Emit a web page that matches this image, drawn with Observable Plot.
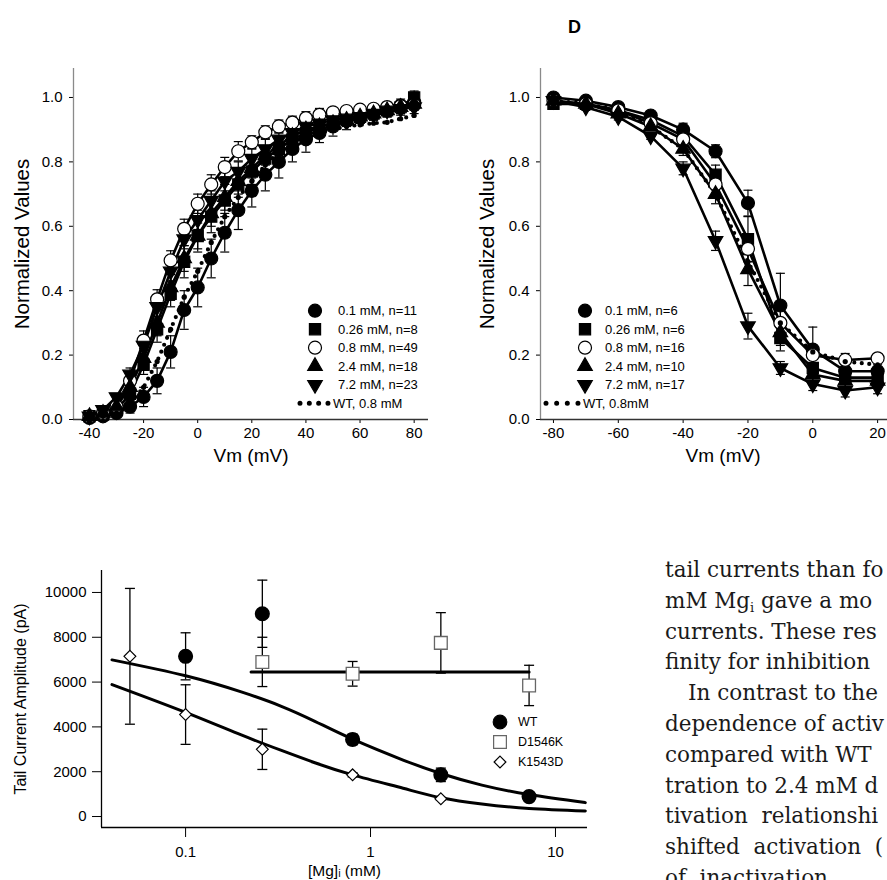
<!DOCTYPE html>
<html><head><meta charset="utf-8">
<script src="https://cdn.jsdelivr.net/npm/d3@7"></script>
<script src="https://cdn.jsdelivr.net/npm/@observablehq/plot@0.6"></script>
<style>
html,body{margin:0;padding:0;background:#fff;overflow:hidden;}
#root{position:relative;width:887px;height:880px;overflow:hidden;background:#fff;font-family:"Liberation Sans",Arial,sans-serif;}
#root > *{position:absolute;}
.para{font-family:"DejaVu Serif",serif;font-size:21.5px;line-height:30.8px;color:#1a1a1a;white-space:nowrap;}
.para div{white-space:nowrap;}
.para sub{font-size:13px;vertical-align:-4px;line-height:0;}
</style></head>
<body><div id="root"></div>
<script>
// ================= DATA =================
const panelLabel = "D";

// --- activation (top-left) ---
const actV = [-40,-35,-30,-25,-20,-15,-10,-5,0,5,10,15,20,25,30,35,40,45,50,55,60,65,70,75,80];
const actNames = ["0.1 mM, n=11","0.26 mM, n=8","0.8 mM, n=49","2.4 mM, n=18","7.2 mM, n=23","WT, 0.8 mM"];
const act01  = [0.005,0.01,0.02,0.04,0.07,0.12,0.21,0.34,0.41,0.50,0.58,0.65,0.71,0.76,0.80,0.84,0.87,0.89,0.91,0.93,0.94,0.955,0.965,0.975,0.985];
const act026 = [0.01,0.015,0.03,0.08,0.17,0.28,0.39,0.49,0.57,0.63,0.68,0.73,0.77,0.81,0.84,0.87,0.89,0.91,0.92,0.93,0.94,0.95,0.96,0.97,1.0];
const act08  = [0.01,0.02,0.04,0.12,0.245,0.373,0.494,0.592,0.670,0.730,0.784,0.833,0.861,0.892,0.910,0.922,0.936,0.946,0.954,0.958,0.962,0.965,0.97,0.973,0.977];
const act24  = [0.01,0.02,0.04,0.10,0.19,0.30,0.41,0.50,0.57,0.64,0.69,0.74,0.78,0.82,0.85,0.88,0.90,0.91,0.92,0.93,0.94,0.95,0.96,0.97,0.98];
const act72  = [0.01,0.03,0.07,0.14,0.23,0.35,0.46,0.56,0.62,0.68,0.74,0.77,0.81,0.84,0.87,0.89,0.91,0.92,0.93,0.935,0.94,0.95,0.96,0.965,0.97];
const actWT  = [0.005,0.01,0.02,0.05,0.10,0.18,0.28,0.38,0.46,0.55,0.63,0.69,0.74,0.79,0.83,0.86,0.88,0.89,0.90,0.91,0.915,0.92,0.923,0.934,0.944];
const actErr01  = [0.005,0.01,0.01,0.02,0.03,0.04,0.05,0.06,0.06,0.06,0.06,0.06,0.05,0.05,0.05,0.04,0.04,0.03,0.03,0.03,0.02,0.02,0.02,0.02,0.02];
const actErr026 = [0.005,0.01,0.01,0.02,0.03,0.04,0.04,0.05,0.05,0.05,0.05,0.04,0.04,0.04,0.04,0.03,0.03,0.03,0.02,0.02,0.02,0.02,0.02,0.02,0.02];
const actErr08  = [0.005,0.01,0.01,0.02,0.03,0.03,0.03,0.03,0.03,0.03,0.03,0.03,0.02,0.02,0.02,0.02,0.02,0.02,0.01,0.01,0.01,0.01,0.01,0.01,0.01];
const actErr24  = [0.005,0.01,0.01,0.02,0.03,0.04,0.04,0.04,0.04,0.04,0.04,0.04,0.03,0.03,0.03,0.03,0.02,0.02,0.02,0.02,0.02,0.02,0.02,0.02,0.02];
const actErr72  = [0.005,0.01,0.01,0.02,0.03,0.03,0.03,0.03,0.03,0.03,0.03,0.03,0.03,0.03,0.02,0.02,0.02,0.02,0.02,0.02,0.02,0.02,0.02,0.02,0.02];
const actXDomain = [-45.9, 85.3];
const actXTicks = [-40,-20,0,20,40,60,80];

// --- inactivation (top-right) ---
const inV = [-80,-70,-60,-50,-40,-30,-20,-10,0,10,20];
const inNames = ["0.1 mM, n=6","0.26 mM, n=6","0.8 mM, n=16","2.4 mM, n=10","7.2 mM, n=17","WT, 0.8mM"];
const in01  = [1.00,0.99,0.97,0.944,0.90,0.833,0.672,0.354,0.217,0.15,0.15];
const in026 = [0.98,0.98,0.96,0.93,0.88,0.76,0.56,0.253,0.16,0.13,0.13];
const in08  = [0.99,0.98,0.96,0.92,0.87,0.73,0.53,0.30,0.20,0.185,0.19];
const in24  = [0.99,0.98,0.95,0.91,0.84,0.70,0.466,0.27,0.14,0.12,0.12];
const in72  = [0.99,0.97,0.94,0.88,0.78,0.555,0.29,0.16,0.11,0.09,0.10];
const inWT  = [0.99,0.98,0.96,0.91,0.84,0.70,0.49,0.30,0.21,0.18,0.17];
const inErr01  = [0.01,0.01,0.01,0.01,0.02,0.02,0.04,0.10,0.07,0.02,0.02];
const inErr026 = [0.01,0.01,0.01,0.01,0.02,0.03,0.07,0.04,0.03,0.02,0.02];
const inErr08  = [0.01,0.01,0.01,0.01,0.02,0.03,0.04,0.04,0.03,0.02,0.01];
const inErr24  = [0.01,0.01,0.01,0.01,0.02,0.03,0.05,0.04,0.03,0.02,0.02];
const inErr72  = [0.01,0.01,0.01,0.01,0.02,0.03,0.04,0.02,0.02,0.02,0.02];
const inXDomain = [-84.0, 28.6];
const inXTicks = [-80,-60,-40,-20,0,20];

const normDomain = [0, 1.09];
const normTicks = [0,0.2,0.4,0.6,0.8,1.0];

// --- tail current amplitude vs [Mg]i (bottom) ---
const mgNames = ["WT","D1546K","K1543D"];
const wtMg  = [0.1,0.26,0.8,2.4,7.2];
const wtAmp = [7150,9050,3440,1860,890];
const wtErr = [1050,1500,240,300,60];
const dkMg  = [0.26,0.8,2.4,7.2];
const dkAmp = [6900,6370,7750,5850];
const dkErr = [1100,550,1350,900];
const kdMg  = [0.05,0.1,0.26,0.8,2.4];
const kdAmp = [7150,4550,3000,1860,790];
const kdErr = [3030,1330,900,90,60];
const fitMg  = [0.040,0.1,0.2,0.327,0.5,0.8,1.5,2.4,4,7.2,14.5];
const wtFit  = [6990,6280,5560,4930,4250,3450,2520,1920,1400,980,620];
const kdFit  = [5890,4650,3640,2960,2400,1860,1260,840,560,360,250];
const dkFitMg = [0.226,7.2];
const dkFit   = [6450,6450];
const mgDomain = [0.0351, 14.9];
const mgTicks = [0.1,1,10];
const ampDomain = [-490, 10980];
const ampTicks = [0,2000,4000,6000,8000,10000];

const paraLines = [
  "tail currents than fo",
  "mM Mg<sub>i</sub> gave a mo",
  "currents. These res",
  "finity for inhibition",
  "In contrast to the",
  "dependence of activ",
  "compared with WT",
  "tration to 2.4 mM d",
  "tivation&nbsp; relationshi",
  "shifted&nbsp; activation&nbsp; (",
  "of&nbsp; inactivation"
];

// ================= DRAWING =================
const root = document.getElementById("root");
const FONT = '"Liberation Sans", Arial, sans-serif';

const capSym = {draw(ctx, size){const r = Math.sqrt(size/Math.PI); ctx.moveTo(-r,0); ctx.lineTo(r,0);}};
const triDown = {draw(ctx, size){
  const y = -Math.sqrt(size / (Math.sqrt(3) * 3));
  ctx.moveTo(0, -y*2); ctx.lineTo(-Math.sqrt(3)*y, y); ctx.lineTo(Math.sqrt(3)*y, y); ctx.closePath();
}};
const symMap = {circle: d3.symbolCircle, square: d3.symbolSquare, triangle: d3.symbolTriangle, diamond2: d3.symbolDiamond2};
const symOf = s => (typeof s === "string" ? symMap[s] : s);

const topStyles = [
  {symbol:"circle", fill:"black", r:6.5},
  {symbol:"square", fill:"black", r:6.3},
  {symbol:"circle", fill:"white", r:6.5},
  {symbol:"triangle", fill:"black", r:5.4},
  {symbol:triDown, fill:"black", r:5.4},
  {wt:true, r:2.6}
];

function toRows(xs, ys, es){ return xs.map((x,i)=>({x, y: ys[i], e: es ? es[i] : 0})); }

function topPanel({xs, series, xDomain, xTicks, width, marginLeft, marginRight, ylabDx}){
  const lines = [], errs = [], dots = [];
  series.forEach((s, i) => {
    const st = topStyles[i];
    const rows = toRows(xs, s.vals, s.err);
    if (st.wt) {
      lines.push(Plot.line(rows, {x:"x", y:"y", stroke:"black", strokeWidth:4.2, strokeDasharray:"0,7.5", strokeLinecap:"round"}));
      dots.push(Plot.dot(rows, {x:"x", y:"y", r: st.r, fill:"black"}));
    } else {
      lines.push(Plot.line(rows, {x:"x", y:"y", stroke:"black", strokeWidth:2.6}));
      errs.push(Plot.ruleX(rows, {x:"x", y1: d=>d.y-d.e, y2: d=>d.y+d.e, stroke:"black", strokeWidth:1.2}));
      errs.push(Plot.dot(rows, {x:"x", y: d=>d.y+d.e, symbol: capSym, r: 4.5, stroke:"black", strokeWidth:1.2}));
      errs.push(Plot.dot(rows, {x:"x", y: d=>d.y-d.e, symbol: capSym, r: 4.5, stroke:"black", strokeWidth:1.2}));
      dots.push(Plot.dot(rows, {x:"x", y:"y", symbol: st.symbol, r: st.r, fill: st.fill, stroke:"black", strokeWidth:1.2}));
    }
  });
  return Plot.plot({
    width, height: 480,
    marginLeft, marginRight, marginTop: 68, marginBottom: 61,
    x: {domain: xDomain},
    y: {domain: normDomain},
    style: {fontFamily: FONT, fontSize: "15px", background: "transparent", overflow: "visible", color: "black"},
    marks: [
      Plot.axisX({ticks: xTicks, tickSize: 4, tickPadding: 4, tickFormat: d => String(d), label: null}),
      Plot.axisY({ticks: normTicks, tickSize: 4, tickPadding: 7, tickFormat: d3.format(".1f"), label: null}),
      Plot.ruleX([xDomain[0]], {stroke: "#8a8a8a", strokeWidth: 1.3}),
      Plot.ruleY([normDomain[0]], {stroke: "#333", strokeWidth: 1.3}),
      ...lines, ...errs, ...dots,
      Plot.text(["Vm (mV)"], {frameAnchor: "bottom", dy: 36, fontSize: 19, lineAnchor: "middle", textAnchor: "middle"}),
      Plot.text(["Normalized Values"], {frameAnchor: "left", dx: ylabDx, rotate: -90, fontSize: 20.5, lineAnchor: "middle", textAnchor: "middle"})
    ]
  });
}

function legend(names, left, top, o){
  const svg = d3.create("svg").attr("width", 170).attr("height", 130)
    .style("position","absolute").style("left", left+"px").style("top", top+"px").style("overflow","visible");
  names.forEach((name, i) => {
    const st = o.styles[i];
    const y = o.y0 + i*o.dy;
    if (st.wt) {
      svg.append("line").attr("x1", o.wx1).attr("x2", o.wx2).attr("y1", y).attr("y2", y)
        .attr("stroke","black").attr("stroke-width", 5).attr("stroke-linecap","round").attr("stroke-dasharray", "0," + ((o.wx2-o.wx1)/3 - 0.01));
      svg.append("text").attr("x", o.wtx).attr("y", y).attr("dy","0.35em").attr("font-family", FONT).attr("font-size", o.fs).text(name);
    } else {
      svg.append("path").attr("transform", `translate(${o.mx},${y})`)
        .attr("d", d3.symbol(symOf(st.symbol), Math.PI*st.r*st.r)())
        .attr("fill", st.fill).attr("stroke", st.stroke || "black").attr("stroke-width", 1.2);
      svg.append("text").attr("x", o.tx).attr("y", y).attr("dy","0.35em").attr("font-family", FONT).attr("font-size", o.fs).text(name);
    }
  });
  root.appendChild(svg.node());
}

function put(el, left, top){ el.style.position="absolute"; el.style.left=left+"px"; el.style.top=top+"px"; root.appendChild(el); return el; }

// Panel label
const lab = document.createElement("div");
lab.textContent = panelLabel;
lab.style.cssText = "font-family:"+FONT+";font-weight:bold;font-size:18px;line-height:18px;";
put(lab, 568, 18);

// Top-left
const tl = topPanel({
  xs: actV,
  series: [
    {vals: act01, err: actErr01}, {vals: act026, err: actErr026}, {vals: act08, err: actErr08},
    {vals: act24, err: actErr24}, {vals: act72, err: actErr72}, {vals: actWT}
  ],
  xDomain: actXDomain, xTicks: actXTicks, width: 440, marginLeft: 73, marginRight: 12, ylabDx: -51
});
put(tl, 0, 0);
legend(actNames, 298, 300, {styles: topStyles, y0: 10.7, dy: 18.5, mx: 17, tx: 40, wx1: 2, wx2: 30, wtx: 35, fs: 13});

// Top-right
const tr = topPanel({
  xs: inV,
  series: [
    {vals: in01, err: inErr01}, {vals: in026, err: inErr026}, {vals: in08, err: inErr08},
    {vals: in24, err: inErr24}, {vals: in72, err: inErr72}, {vals: inWT}
  ],
  xDomain: inXDomain, xTicks: inXTicks, width: 445, marginLeft: 80, marginRight: 0, ylabDx: -53
});
put(tr, 460, 0);
legend(inNames, 568, 300, {styles: topStyles, y0: 10.7, dy: 18.5, mx: 17, tx: 37, wx1: -22, wx2: 10, wtx: 15, fs: 13});

// Bottom
const botStyles = [
  {symbol:"circle", fill:"black", stroke:"black", r:6.8},
  {symbol:"square", fill:"white", stroke:"#666", r:7.2},
  {symbol:"diamond2", fill:"white", stroke:"black", r:5.3}
];
const wtRows = toRows(wtMg, wtAmp, wtErr);
const dkRows = toRows(dkMg, dkAmp, dkErr);
const kdRows = toRows(kdMg, kdAmp, kdErr);
function errMarks(rows){
  return [
    Plot.ruleX(rows, {x:"x", y1: d=>d.y-d.e, y2: d=>d.y+d.e, stroke:"black", strokeWidth:1.3}),
    Plot.dot(rows, {x:"x", y: d=>d.y+d.e, symbol: capSym, r: 5, stroke:"black", strokeWidth:1.3}),
    Plot.dot(rows, {x:"x", y: d=>d.y-d.e, symbol: capSym, r: 5, stroke:"black", strokeWidth:1.3})
  ];
}
const bp = Plot.plot({
  width: 620, height: 340,
  marginLeft: 101, marginRight: 33, marginTop: 30, marginBottom: 53,
  x: {type: "log", domain: mgDomain},
  y: {domain: ampDomain},
  style: {fontFamily: FONT, fontSize: "15px", background: "transparent", overflow: "visible", color: "black"},
  marks: [
    Plot.axisY({ticks: ampTicks, tickSize: 9, tickPadding: 6, tickFormat: d => String(d), label: null}),
    Plot.axisX({ticks: mgTicks, tickSize: 10, tickPadding: 9, tickFormat: d => String(d), label: null}),
    Plot.ruleX([mgDomain[0]], {stroke: "black", strokeWidth: 1.3}),
    Plot.ruleY([ampDomain[0]], {stroke: "black", strokeWidth: 1.3}),
    ...errMarks(wtRows), ...errMarks(dkRows), ...errMarks(kdRows),
    Plot.line(toRows(fitMg, wtFit), {x:"x", y:"y", stroke:"black", strokeWidth:3, curve:"natural"}),
    Plot.line(toRows(fitMg, kdFit), {x:"x", y:"y", stroke:"black", strokeWidth:3, curve:"natural"}),
    Plot.line(toRows(dkFitMg, dkFit), {x:"x", y:"y", stroke:"black", strokeWidth:3}),
    Plot.dot(wtRows, {x:"x", y:"y", symbol: botStyles[0].symbol, r: botStyles[0].r, fill: botStyles[0].fill, stroke: botStyles[0].stroke}),
    Plot.dot(dkRows, {x:"x", y:"y", symbol: botStyles[1].symbol, r: botStyles[1].r, fill: botStyles[1].fill, stroke: botStyles[1].stroke, strokeWidth: 1.3}),
    Plot.dot(kdRows, {x:"x", y:"y", symbol: botStyles[2].symbol, r: botStyles[2].r, fill: botStyles[2].fill, stroke: botStyles[2].stroke, strokeWidth: 1.2}),
    Plot.text(["[Mg]ᵢ (mM)"], {frameAnchor: "bottom", dy: 44, fontSize: 15.5, lineAnchor: "middle", textAnchor: "middle"}),
    Plot.text(["Tail Current Amplitude (pA)"], {frameAnchor: "left", dx: -81, rotate: -90, fontSize: 16, lineAnchor: "middle", textAnchor: "middle"})
  ]
});
put(bp, 0, 540);
legend(mgNames, 490, 712, {styles: botStyles, y0: 10, dy: 20, mx: 10, tx: 28, fs: 12.5});

// Body text (right column)
const para = document.createElement("div");
para.className = "para";
para.innerHTML = paraLines.map((t, i) => `<div style="${i===4 ? 'padding-left:23px' : ''}">${t}</div>`).join("");
put(para, 665, 555);
</script></body></html>
